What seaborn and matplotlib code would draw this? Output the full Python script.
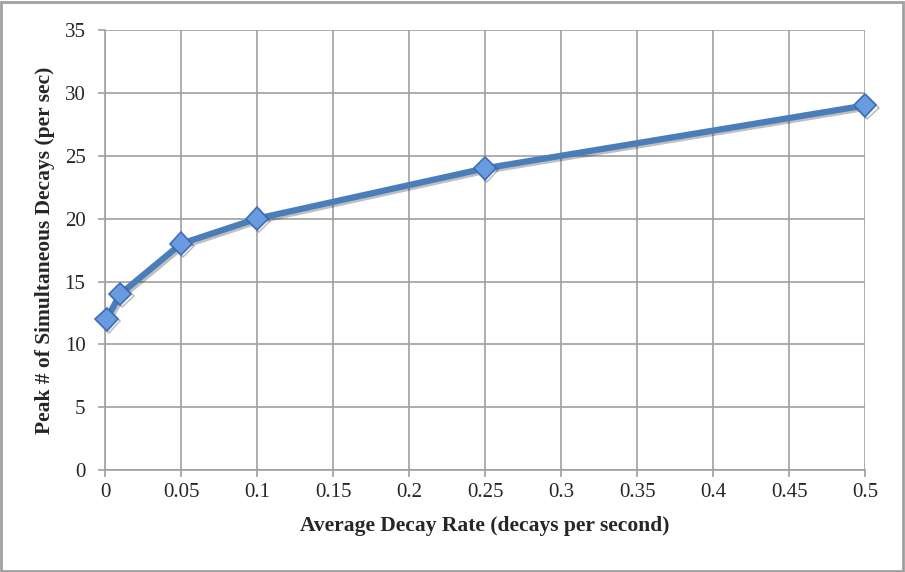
import matplotlib
matplotlib.use("Agg")
import matplotlib.pyplot as plt
import matplotlib.patheffects as pe
import seaborn as sns
import pandas as pd
from matplotlib.patches import Rectangle

rate = [0.001, 0.01, 0.05, 0.1, 0.25, 0.5]
peak = [12, 14, 18, 20, 24, 29]
x_ticks = [0, 0.05, 0.1, 0.15, 0.2, 0.25, 0.3, 0.35, 0.4, 0.45, 0.5]
x_labels = ["0", "0.05", "0.1", "0.15", "0.2", "0.25", "0.3", "0.35", "0.4", "0.45", "0.5"]
y_ticks = [0, 5, 10, 15, 20, 25, 30, 35]

sns.set_theme(style="white")
plt.rcParams['font.family'] = ['Liberation Serif', 'DejaVu Serif']

df = pd.DataFrame({"rate": rate, "peak": peak})

fig = plt.figure(figsize=(9.05, 5.72), dpi=100)
ax = fig.add_axes([0.116, 0.178, 0.84, 0.7696])

sns.lineplot(data=df, x="rate", y="peak", ax=ax, color="#4a7ebb", linewidth=4.5,
             marker="D", markersize=11.5, markerfacecolor="#6a9be0",
             markeredgecolor="#3d6db5", markeredgewidth=1.2, zorder=5, clip_on=False)
for ln in ax.lines:
    ln.set_path_effects([pe.SimpleLineShadow(offset=(1.5, -1.5), shadow_color="black", alpha=0.25),
                         pe.Normal()])

ax.set_xlim(0, 0.5)
ax.set_ylim(0, 35)
ax.set_xticks(x_ticks)
ax.set_xticklabels(x_labels)
ax.set_yticks(y_ticks)
ax.grid(True, color="#a0a0a0", linewidth=1.2)
ax.set_axisbelow(True)
for s in ["top", "right"]:
    ax.spines[s].set_visible(False)
for s in ["left", "bottom"]:
    ax.spines[s].set_color("#a0a0a0")
    ax.spines[s].set_linewidth(1.2)
ax.tick_params(axis="both", which="both", direction="out", length=5, width=1.2,
               color="#a0a0a0", labelsize=15, left=True, bottom=True)
ax.tick_params(axis="y", pad=9)
ax.tick_params(axis="x", pad=4)
ax.set_xlabel("Average Decay Rate (decays per second)", fontsize=15.5, fontweight="bold", labelpad=10)
ax.set_ylabel("Peak # of Simultaneous Decays (per sec)", fontsize=15.5, fontweight="bold", labelpad=7)

fig.patches.append(Rectangle((0.001, 0.002), 0.997, 0.995, transform=fig.transFigure,
                             fill=False, edgecolor="#a0a0a0", linewidth=2))

fig.savefig("out.png", dpi=100)
